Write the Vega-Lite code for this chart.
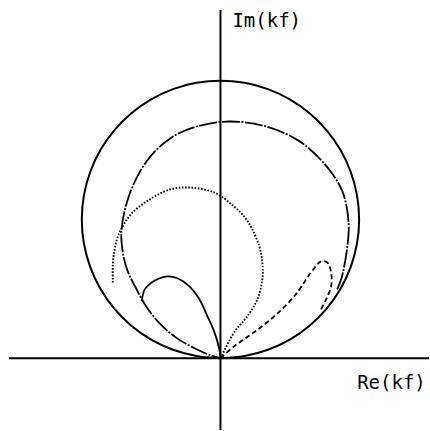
{
  "$schema": "https://vega.github.io/schema/vega-lite/v6.json",
  "width": 430,
  "height": 431,
  "autosize": {"type": "fit", "contains": "padding"},
  "padding": 0,
  "background": "white",
  "config": {"view": {"stroke": null}},
  "datasets": {
    "axes": [
      {"re": -0.763, "re2": 0.752, "im": 0, "im2": 0},
      {"re": 0, "re2": 0, "im": -0.259, "im2": 1.255}
    ],
    "labels": [
      {"text": "Im(kf)", "re": 0.043, "im": 1.194},
      {"text": "Re(kf)", "re": 0.493, "im": -0.112}
    ],
    "curves": [
      {"curve": "unit", "i": 0, "re": 0, "im": 0},
      {"curve": "unit", "i": 1, "re": 0.0868, "im": 0.0076},
      {"curve": "unit", "i": 2, "re": 0.171, "im": 0.0302},
      {"curve": "unit", "i": 3, "re": 0.25, "im": 0.067},
      {"curve": "unit", "i": 4, "re": 0.3214, "im": 0.117},
      {"curve": "unit", "i": 5, "re": 0.383, "im": 0.1786},
      {"curve": "unit", "i": 6, "re": 0.433, "im": 0.25},
      {"curve": "unit", "i": 7, "re": 0.4698, "im": 0.329},
      {"curve": "unit", "i": 8, "re": 0.4924, "im": 0.4132},
      {"curve": "unit", "i": 9, "re": 0.5, "im": 0.5},
      {"curve": "unit", "i": 10, "re": 0.4924, "im": 0.5868},
      {"curve": "unit", "i": 11, "re": 0.4698, "im": 0.671},
      {"curve": "unit", "i": 12, "re": 0.433, "im": 0.75},
      {"curve": "unit", "i": 13, "re": 0.383, "im": 0.8214},
      {"curve": "unit", "i": 14, "re": 0.3214, "im": 0.883},
      {"curve": "unit", "i": 15, "re": 0.25, "im": 0.933},
      {"curve": "unit", "i": 16, "re": 0.171, "im": 0.9698},
      {"curve": "unit", "i": 17, "re": 0.0868, "im": 0.9924},
      {"curve": "unit", "i": 18, "re": 0, "im": 1},
      {"curve": "unit", "i": 19, "re": -0.0868, "im": 0.9924},
      {"curve": "unit", "i": 20, "re": -0.171, "im": 0.9698},
      {"curve": "unit", "i": 21, "re": -0.25, "im": 0.933},
      {"curve": "unit", "i": 22, "re": -0.3214, "im": 0.883},
      {"curve": "unit", "i": 23, "re": -0.383, "im": 0.8214},
      {"curve": "unit", "i": 24, "re": -0.433, "im": 0.75},
      {"curve": "unit", "i": 25, "re": -0.4698, "im": 0.671},
      {"curve": "unit", "i": 26, "re": -0.4924, "im": 0.5868},
      {"curve": "unit", "i": 27, "re": -0.5, "im": 0.5},
      {"curve": "unit", "i": 28, "re": -0.4924, "im": 0.4132},
      {"curve": "unit", "i": 29, "re": -0.4698, "im": 0.329},
      {"curve": "unit", "i": 30, "re": -0.433, "im": 0.25},
      {"curve": "unit", "i": 31, "re": -0.383, "im": 0.1786},
      {"curve": "unit", "i": 32, "re": -0.3214, "im": 0.117},
      {"curve": "unit", "i": 33, "re": -0.25, "im": 0.067},
      {"curve": "unit", "i": 34, "re": -0.171, "im": 0.0302},
      {"curve": "unit", "i": 35, "re": -0.0868, "im": 0.0076},
      {"curve": "unit", "i": 36, "re": 0, "im": 0},

      {"curve": "dashdot", "i": 0, "re": 0.421, "im": 0.248},
      {"curve": "dashdot", "i": 1, "re": 0.437, "im": 0.29},
      {"curve": "dashdot", "i": 2, "re": 0.456, "im": 0.39},
      {"curve": "dashdot", "i": 3, "re": 0.462, "im": 0.489},
      {"curve": "dashdot", "i": 4, "re": 0.44, "im": 0.6},
      {"curve": "dashdot", "i": 5, "re": 0.38, "im": 0.695},
      {"curve": "dashdot", "i": 6, "re": 0.28, "im": 0.785},
      {"curve": "dashdot", "i": 7, "re": 0.158, "im": 0.837},
      {"curve": "dashdot", "i": 8, "re": 0.032, "im": 0.853},
      {"curve": "dashdot", "i": 9, "re": -0.086, "im": 0.835},
      {"curve": "dashdot", "i": 10, "re": -0.18, "im": 0.793},
      {"curve": "dashdot", "i": 11, "re": -0.266, "im": 0.71},
      {"curve": "dashdot", "i": 12, "re": -0.33, "im": 0.585},
      {"curve": "dashdot", "i": 13, "re": -0.357, "im": 0.46},
      {"curve": "dashdot", "i": 14, "re": -0.352, "im": 0.38},
      {"curve": "dashdot", "i": 15, "re": -0.335, "im": 0.315},
      {"curve": "dashdot", "i": 16, "re": -0.306, "im": 0.255},
      {"curve": "dashdot", "i": 17, "re": -0.27, "im": 0.19},
      {"curve": "dashdot", "i": 18, "re": -0.222, "im": 0.128},
      {"curve": "dashdot", "i": 19, "re": -0.16, "im": 0.074},
      {"curve": "dashdot", "i": 20, "re": -0.09, "im": 0.034},
      {"curve": "dashdot", "i": 21, "re": -0.035, "im": 0.01},
      {"curve": "dashdot", "i": 22, "re": 0, "im": 0},

      {"curve": "dotted", "i": 0, "re": 0, "im": 0},
      {"curve": "dotted", "i": 1, "re": 0.05, "im": 0.094},
      {"curve": "dotted", "i": 2, "re": 0.097, "im": 0.151},
      {"curve": "dotted", "i": 3, "re": 0.133, "im": 0.212},
      {"curve": "dotted", "i": 4, "re": 0.151, "im": 0.284},
      {"curve": "dotted", "i": 5, "re": 0.151, "im": 0.345},
      {"curve": "dotted", "i": 6, "re": 0.14, "im": 0.403},
      {"curve": "dotted", "i": 7, "re": 0.115, "im": 0.464},
      {"curve": "dotted", "i": 8, "re": 0.09, "im": 0.505},
      {"curve": "dotted", "i": 9, "re": 0.045, "im": 0.55},
      {"curve": "dotted", "i": 10, "re": -0.022, "im": 0.597},
      {"curve": "dotted", "i": 11, "re": -0.112, "im": 0.615},
      {"curve": "dotted", "i": 12, "re": -0.183, "im": 0.608},
      {"curve": "dotted", "i": 13, "re": -0.255, "im": 0.572},
      {"curve": "dotted", "i": 14, "re": -0.317, "im": 0.525},
      {"curve": "dotted", "i": 15, "re": -0.353, "im": 0.475},
      {"curve": "dotted", "i": 16, "re": -0.371, "im": 0.435},
      {"curve": "dotted", "i": 17, "re": -0.382, "im": 0.39},
      {"curve": "dotted", "i": 18, "re": -0.388, "im": 0.338},
      {"curve": "dotted", "i": 19, "re": -0.388, "im": 0.27},

      {"curve": "dashed", "i": 0, "re": 0, "im": 0},
      {"curve": "dashed", "i": 1, "re": 0.05, "im": 0.043},
      {"curve": "dashed", "i": 2, "re": 0.122, "im": 0.094},
      {"curve": "dashed", "i": 3, "re": 0.194, "im": 0.151},
      {"curve": "dashed", "i": 4, "re": 0.266, "im": 0.223},
      {"curve": "dashed", "i": 5, "re": 0.327, "im": 0.309},
      {"curve": "dashed", "i": 6, "re": 0.363, "im": 0.349},
      {"curve": "dashed", "i": 7, "re": 0.385, "im": 0.345},
      {"curve": "dashed", "i": 8, "re": 0.399, "im": 0.309},
      {"curve": "dashed", "i": 9, "re": 0.399, "im": 0.259},
      {"curve": "dashed", "i": 10, "re": 0.381, "im": 0.212},
      {"curve": "dashed", "i": 11, "re": 0.363, "im": 0.176},

      {"curve": "solid", "i": 0, "re": -0.284, "im": 0.205},
      {"curve": "solid", "i": 1, "re": -0.273, "im": 0.248},
      {"curve": "solid", "i": 2, "re": -0.248, "im": 0.273},
      {"curve": "solid", "i": 3, "re": -0.219, "im": 0.288},
      {"curve": "solid", "i": 4, "re": -0.191, "im": 0.295},
      {"curve": "solid", "i": 5, "re": -0.155, "im": 0.288},
      {"curve": "solid", "i": 6, "re": -0.112, "im": 0.259},
      {"curve": "solid", "i": 7, "re": -0.076, "im": 0.212},
      {"curve": "solid", "i": 8, "re": -0.047, "im": 0.151},
      {"curve": "solid", "i": 9, "re": -0.022, "im": 0.094},
      {"curve": "solid", "i": 10, "re": -0.004, "im": 0.032},
      {"curve": "solid", "i": 11, "re": 0, "im": 0}
    ]
  },
  "encoding": {
    "x": {"field": "re", "type": "quantitative", "axis": null, "scale": {"domain": [-0.795, 0.752], "nice": false, "zero": false}},
    "y": {"field": "im", "type": "quantitative", "axis": null, "scale": {"domain": [-0.259, 1.291], "nice": false, "zero": false}}
  },
  "layer": [
    {
      "data": {"name": "axes"},
      "mark": {"type": "rule", "color": "black", "strokeWidth": 2},
      "encoding": {"x2": {"field": "re2"}, "y2": {"field": "im2"}}
    },
    {
      "data": {"name": "curves"},
      "transform": [{"filter": "datum.curve === 'unit'"}],
      "mark": {"type": "line", "color": "black", "strokeWidth": 2, "interpolate": "cardinal"},
      "encoding": {"order": {"field": "i", "type": "quantitative"}}
    },
    {
      "data": {"name": "curves"},
      "transform": [{"filter": "datum.curve === 'dashdot'"}],
      "mark": {"type": "line", "color": "black", "strokeWidth": 1.8, "interpolate": "catmull-rom", "strokeDash": [18, 1.5, 2, 1.5]},
      "encoding": {"order": {"field": "i", "type": "quantitative"}}
    },
    {
      "data": {"name": "curves"},
      "transform": [{"filter": "datum.curve === 'dotted'"}],
      "mark": {"type": "line", "color": "black", "strokeWidth": 1.9, "interpolate": "catmull-rom", "strokeDash": [1.6, 1.6]},
      "encoding": {"order": {"field": "i", "type": "quantitative"}}
    },
    {
      "data": {"name": "curves"},
      "transform": [{"filter": "datum.curve === 'dashed'"}],
      "mark": {"type": "line", "color": "black", "strokeWidth": 1.8, "interpolate": "catmull-rom", "strokeDash": [5, 3]},
      "encoding": {"order": {"field": "i", "type": "quantitative"}}
    },
    {
      "data": {"name": "curves"},
      "transform": [{"filter": "datum.curve === 'solid'"}],
      "mark": {"type": "line", "color": "black", "strokeWidth": 1.8, "interpolate": "catmull-rom"},
      "encoding": {"order": {"field": "i", "type": "quantitative"}}
    },
    {
      "data": {"name": "labels"},
      "mark": {"type": "text", "align": "left", "baseline": "alphabetic", "font": "DejaVu Sans Mono", "fontSize": 19, "color": "black"},
      "encoding": {"text": {"field": "text"}}
    }
  ]
}
